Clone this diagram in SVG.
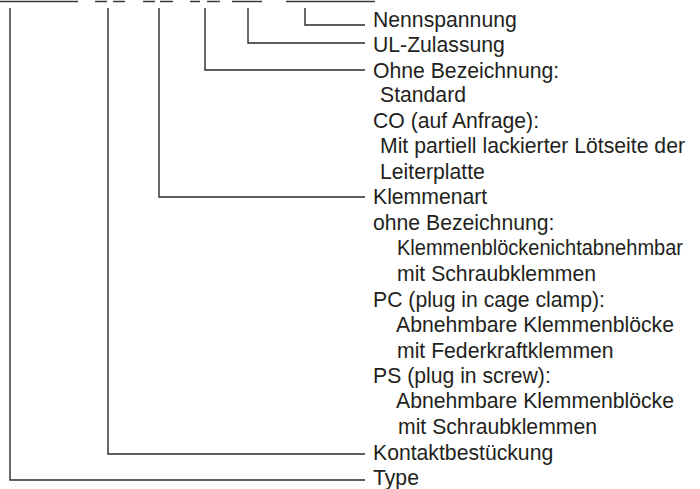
<svg xmlns="http://www.w3.org/2000/svg" width="700" height="489" viewBox="0 0 700 489">
<style>
.c{fill:none;stroke:#2a2a2a;stroke-width:1.4}
.u{fill:none;stroke:#3a3a3a;stroke-width:1.3}
text{font-family:"Liberation Sans",Arial,sans-serif;font-size:21.2px;fill:#231f20}
</style>
<rect width="700" height="489" fill="#fff"/>
<g id="top-underlines">
<path class="u" d="M0 1.5H78M95 1.5H107M113 1.5H125M143 1.5H155M160 1.5H173M190 1.5H200M207 1.5H220M232 1.5H262M286 1.5H375"/>
</g>
<g id="connectors">
<path class="c" d="M305 8V25H365"/>
<path class="c" d="M248 8V43H365"/>
<path class="c" d="M205 8V70H365"/>
<path class="c" d="M159 8V197H365"/>
<path class="c" d="M108 8V454H365"/>
<path class="c" d="M10 8V480H365"/>
</g>
<g id="nennspannung"><text x="373" y="27">Nennspannung</text></g>
<g id="ul-zulassung"><text x="373" y="52">UL-Zulassung</text></g>
<g id="ausfuehrung">
<text x="373" y="78">Ohne Bezeichnung:</text>
<text x="380" y="102">Standard</text>
<text x="373" y="128">CO (auf Anfrage):</text>
<text x="380" y="153">Mit partiell lackierter Lötseite der</text>
<text x="380" y="179">Leiterplatte</text>
</g>
<g id="klemmenart">
<text x="373" y="204">Klemmenart</text>
<text x="373" y="230">ohne Bezeichnung:</text>
<text x="397" y="255" textLength="286" lengthAdjust="spacingAndGlyphs">Klemmenblöckenichtabnehmbar</text>
<text x="397" y="281">mit Schraubklemmen</text>
<text x="373" y="307">PC (plug in cage clamp):</text>
<text x="396" y="332">Abnehmbare Klemmenblöcke</text>
<text x="397" y="358">mit Federkraftklemmen</text>
<text x="373" y="383">PS (plug in screw):</text>
<text x="396" y="408">Abnehmbare Klemmenblöcke</text>
<text x="398" y="434">mit Schraubklemmen</text>
</g>
<g id="kontaktbestueckung"><text x="373" y="460">Kontaktbestückung</text></g>
<g id="type"><text x="373" y="485">Type</text></g>
</svg>
